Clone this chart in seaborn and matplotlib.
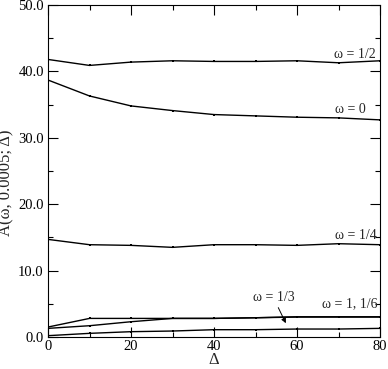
import matplotlib
matplotlib.use("Agg")
import matplotlib.pyplot as plt
import seaborn as sns
import pandas as pd
from matplotlib.ticker import MultipleLocator

delta = [0, 10, 20, 30, 40, 50, 60, 70, 80]
a_half = [41.8, 40.9, 41.4, 41.6, 41.5, 41.5, 41.6, 41.3, 41.6]
a_zero = [38.7, 36.3, 34.8, 34.1, 33.5, 33.3, 33.1, 33.0, 32.7]
a_quarter = [14.7, 13.9, 13.8, 13.5, 13.9, 13.9, 13.8, 14.05, 13.9]
a_one = [1.5, 2.8, 2.8, 2.8, 2.8, 2.9, 3.05, 3.05, 3.05]
a_sixth = [1.3, 1.7, 2.3, 2.8, 2.8, 2.9, 3.0, 3.0, 3.0]
a_third = [0.2, 0.55, 0.8, 0.9, 1.1, 1.1, 1.2, 1.2, 1.3]

series = {"1/2": a_half, "0": a_zero, "1/4": a_quarter,
          "1": a_one, "1/6": a_sixth, "1/3": a_third}
rows = []
for name, vals in series.items():
    for d, v in zip(delta, vals):
        rows.append({"delta": d, "A": v, "omega": name})
df = pd.DataFrame(rows)

sns.set_style("ticks")
plt.rcParams["font.family"] = ["Liberation Serif", "DejaVu Serif"]

fig = plt.figure(figsize=(3.88, 3.69), dpi=100)
ax = fig.add_axes([48/388, 32/369, 332/388, 332/369])

sns.lineplot(data=df, x="delta", y="A", units="omega", estimator=None,
             color="black", lw=1.0, marker="s", markersize=1.8,
             markeredgewidth=0, ax=ax, legend=False)

ax.set_xlim(0, 80)
ax.set_ylim(0, 50)
ax.xaxis.set_major_locator(MultipleLocator(20))
ax.xaxis.set_minor_locator(MultipleLocator(10))
ax.yaxis.set_minor_locator(MultipleLocator(5))
ax.set_yticks([0, 10, 20, 30, 40, 50])
ax.set_yticklabels(["0.0", "10.0", "20.0", "30.0", "40.0", "50.0"])
ax.tick_params(which="both", direction="in", top=True, right=True,
               labelsize=10.5, width=0.8, colors="black")
ax.tick_params(axis="x", pad=2)
ax.tick_params(axis="y", pad=3)
ax.tick_params(which="major", length=7)
ax.tick_params(which="minor", length=3.6)
for s in ax.spines.values():
    s.set_linewidth(0.8)
    s.set_color("black")

ax.set_xlabel("Δ", fontsize=12)
ax.xaxis.label.set_va("bottom")
ax.xaxis.set_label_coords(0.5, -0.092)
ax.set_ylabel("A(ω, 0.0005; Δ)", fontsize=12)
ax.yaxis.set_label_coords(-0.1, 0.464)

fs = 10
ax.text(74.0, 42.6, "ω = 1/2", ha="center", va="center", fontsize=fs)
ax.text(72.8, 34.3, "ω = 0", ha="center", va="center", fontsize=fs)
ax.text(74.2, 15.3, "ω = 1/4", ha="center", va="center", fontsize=fs)
ax.text(72.6, 5.0, "ω = 1, 1/6", ha="center", va="center", fontsize=fs)
ax.text(54.3, 6.0, "ω = 1/3", ha="center", va="center", fontsize=fs)
ax.annotate("", xy=(57.6, 1.7), xytext=(55.2, 4.8),
            arrowprops=dict(arrowstyle="-|>", color="black", lw=0.7,
                            mutation_scale=7))

fig.savefig("out.png", dpi=100)
